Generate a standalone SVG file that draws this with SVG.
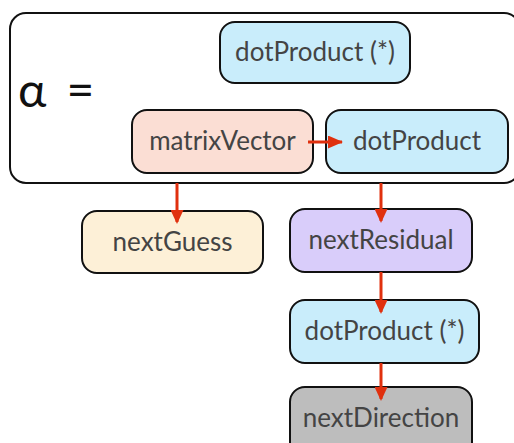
<svg xmlns="http://www.w3.org/2000/svg" width="514" height="443" viewBox="0 0 514 443">
<style>
.n{stroke:#111;stroke-width:2}
.t{font-family:Lato,"Open Sans",sans-serif;font-size:26px;fill:#444;text-anchor:middle}
.c{stroke:#e0300e;stroke-width:3;fill:none}
</style>
<defs>
<marker id="ah" markerWidth="15" markerHeight="13" refX="14" refY="6.5" orient="auto" markerUnits="userSpaceOnUse" viewBox="0 0 15 13">
<path d="M0,0 L15,6.5 L0,13 Z" fill="#e0300e"/>
</marker>
<marker id="av" markerWidth="14" markerHeight="13" refX="12" refY="6.5" orient="auto" markerUnits="userSpaceOnUse" viewBox="0 0 14 13">
<path d="M0,0 L14,6.5 L0,13 Z" fill="#e0300e"/>
</marker>
</defs>
<g id="alpha">
<rect class="n" x="10" y="13" width="510" height="170" rx="16" fill="#fff"/>
<text x="18" y="107" font-family="Lato,'Open Sans',sans-serif" font-size="48" fill="#111">α<tspan dx="20">=</tspan></text>
</g>
<g id="dotProductTop">
<rect class="n" x="220" y="22" width="190" height="61" rx="15" fill="#c9edfb"/>
<text class="t" x="315" y="61">dotProduct (*)</text>
</g>
<g id="matrixVector">
<rect class="n" x="132" y="110" width="181" height="63" rx="15" fill="#fbded4"/>
<text class="t" x="222.5" y="150">matrixVector</text>
</g>
<g id="dotProduct">
<rect class="n" x="326" y="110" width="182" height="63" rx="15" fill="#c9edfb"/>
<text class="t" x="417" y="150">dotProduct</text>
</g>
<g id="nextGuess">
<rect class="n" x="82" y="211" width="181" height="62" rx="15" fill="#fdf0d7"/>
<text class="t" x="172.5" y="251">nextGuess</text>
</g>
<g id="nextResidual">
<rect class="n" x="290" y="209" width="182" height="63" rx="15" fill="#d9cdfa"/>
<text class="t" x="381" y="249">nextResidual</text>
</g>
<g id="dotProductLow">
<rect class="n" x="290" y="300" width="189" height="63" rx="15" fill="#c9edfb"/>
<text class="t" x="384.5" y="340">dotProduct (*)</text>
</g>
<g id="nextDirection">
<rect class="n" x="290" y="387" width="182" height="70" rx="15" fill="#bdbdbd"/>
<text class="t" x="381" y="427">nextDirection</text>
</g>
<g id="connectors">
<line class="c" x1="308" y1="142" x2="342" y2="142" marker-end="url(#ah)"/>
<line class="c" x1="177" y1="183" x2="177" y2="222" marker-end="url(#av)"/>
<line class="c" x1="381" y1="183" x2="381" y2="221" marker-end="url(#av)"/>
<line class="c" x1="381" y1="272" x2="381" y2="312" marker-end="url(#av)"/>
<line class="c" x1="381" y1="363" x2="381" y2="399" marker-end="url(#av)"/>
</g>
</svg>
